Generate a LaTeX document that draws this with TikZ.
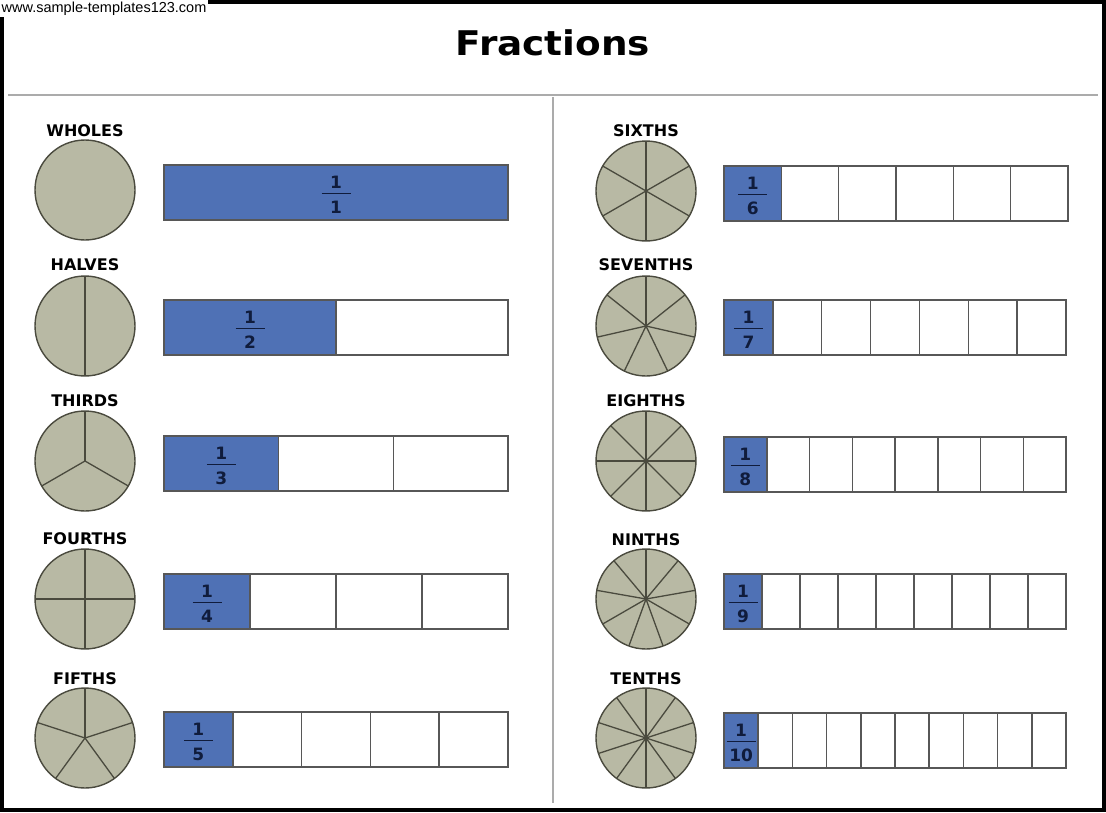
\documentclass[tikz,border=0pt]{standalone}
\usepackage{fontspec}
\setmainfont{DejaVu Sans}
\newfontfamily\urlfont{Liberation Sans}
\usepackage{graphicx}
\usepackage{tikz}
\usetikzlibrary{positioning}

\definecolor{piegray}{HTML}{B8B9A4}
\definecolor{pieline}{HTML}{4A4A3E}
\definecolor{partblue}{HTML}{4F71B5}
\definecolor{fracink}{HTML}{101C3C}
\definecolor{rulegray}{HTML}{ABABAB}
\definecolor{cellline}{HTML}{575757}

\newcommand{\fracpart}[2]{\begingroup\setlength{\arrayrulewidth}{1.4pt}%
\begin{tabular}{@{}c@{}}\makebox[29pt]{#1}\\[-1.5pt]\hline\rule{0pt}{19pt}#2\end{tabular}\endgroup}

\begin{document}
\begin{tikzpicture}[x=1pt,y=-1pt]
\tikzset{
  pie/.style={fill=piegray, draw=pieline, line width=1.4pt},
  spoke/.style={draw=pieline, line width=1.3pt},
  cell/.style={fill=white, draw=cellline, line width=1.5pt},
  part/.style={fill=partblue, draw=cellline, line width=1.5pt},
  heading/.style={font=\fontsize{16}{19}\selectfont\bfseries, inner sep=0pt},
  fracnum/.style={font=\fontsize{17}{20}\selectfont\bfseries, text=fracink, inner sep=0pt},
  divider/.style={draw=rulegray, line width=2pt},
  pics/pie/.style={code={
    \filldraw[pie] (0,0) circle [radius=50];
    \foreach \k in {1,...,#1} \draw[spoke] (0,0) -- ({360*\k/#1-90}:50);
  }},
  pics/bar/.style 2 args={code={
    \pgfmathsetmacro\cw{#2/#1}
    \foreach \k in {1,...,#1} \filldraw[cell] ({\cw*(\k-1)},0) rectangle ({\cw*\k},55);
    \filldraw[part] (0,0) rectangle (\cw,55);
    \node[fracnum] (-frac) at ({\cw/2},32) {\fracpart{1}{#1}};
  }}
}
\useasboundingbox (0,0) rectangle (1106,812);

% frame, title and dividers
\draw[line width=4pt] (2,2) rectangle (1104,810);
\node[anchor=north west, fill=white, inner sep=1.5pt, font=\urlfont\fontsize{14.5}{16}\selectfont] (url) at (0,0) {www.sample-templates123.com};
\node[font=\fontsize{34}{38}\selectfont\bfseries, inner sep=0pt] (title) at (553,43) {\scalebox{1.1}[1]{Fractions}};
\draw[divider] (8,95) -- (1098,95);
\draw[divider] (553,97) -- (553,803);

% left column
\filldraw[pie] (85,190) circle [radius=50];
\node[heading] (wholes) at (85,131) {WHOLES};
\pic (b1) at (164,165) {bar={1}{344}};

\pic at (85,326) {pie=2};
\node[heading] (halves) at (85,265) {HALVES};
\pic (b2) at (164,300) {bar={2}{344}};

\pic at (85,461) {pie=3};
\node[heading] (thirds) at (85,401) {THIRDS};
\pic (b3) at (164,436) {bar={3}{344}};

\pic at (85,599) {pie=4};
\node[heading] (fourths) at (85,539) {FOURTHS};
\pic (b4) at (164,574) {bar={4}{344}};

\pic at (85,738) {pie=5};
\node[heading] (fifths) at (85,679) {FIFTHS};
\pic (b5) at (164,712) {bar={5}{344}};

% right column
\pic at (646,191) {pie=6};
\node[heading] (sixths) at (646,131) {SIXTHS};
\pic (b6) at (724,166) {bar={6}{344}};

\pic at (646,326) {pie=7};
\node[heading] (sevenths) at (646,265) {SEVENTHS};
\pic (b7) at (724,300) {bar={7}{342}};

\pic at (646,461) {pie=8};
\node[heading] (eighths) at (646,401) {EIGHTHS};
\pic (b8) at (724,437) {bar={8}{342}};

\pic at (646,599) {pie=9};
\node[heading] (ninths) at (646,540) {NINTHS};
\pic (b9) at (724,574) {bar={9}{342}};

\pic at (646,738) {pie=10};
\node[heading] (tenths) at (646,679) {TENTHS};
\pic (b10) at (724,713) {bar={10}{342}};
\end{tikzpicture}
\end{document}
